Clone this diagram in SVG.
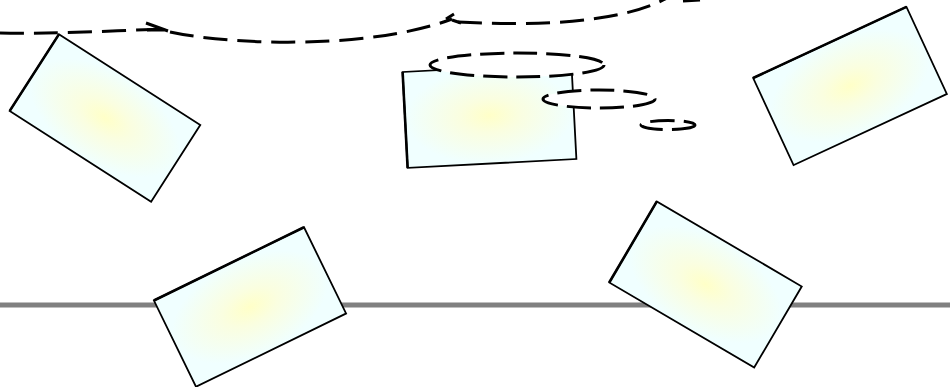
<svg xmlns="http://www.w3.org/2000/svg" width="950" height="387" viewBox="0 0 950 387">
<defs>
<radialGradient id="g" cx="0.5" cy="0.5" r="0.5">
<stop offset="0" stop-color="#ffffc8"/>
<stop offset="0.35" stop-color="#fafee0"/>
<stop offset="1" stop-color="#f0ffff"/>
</radialGradient>
<style>
.card{fill:url(#g);stroke:#000;stroke-width:1.8}
.edge{stroke:#000;stroke-width:2.6;fill:none}
.dash{fill:none;stroke:#000;stroke-width:3;stroke-dasharray:24 10}
.ell{fill:#fff;stroke:#000;stroke-width:3;stroke-dasharray:24 9}
.tick{fill:none;stroke:#000;stroke-width:3}
</style>
</defs>
<line x1="0" y1="305" x2="950" y2="305" stroke="#808080" stroke-width="5"/>
<g id="node1" transform="translate(105,118) rotate(32.7)">
<rect class="card" x="-84" y="-45.5" width="168" height="91"/>
<line class="edge" x1="-84" y1="-45.5" x2="-84" y2="45.5"/>
</g>
<g id="node2" transform="translate(489.5,115.5) rotate(-3)">
<rect class="card" x="-84.5" y="-48" width="169" height="96"/>
<line class="edge" x1="-84.5" y1="-48" x2="-84.5" y2="48"/>
</g>
<g id="node3" transform="translate(850,86) rotate(-24.9)">
<rect class="card" x="-84.5" y="-48" width="169" height="96"/>
<line class="edge" x1="-84.5" y1="-48" x2="84.5" y2="-48"/>
</g>
<g id="node4" transform="translate(250,307) rotate(-26)">
<rect class="card" x="-83.5" y="-48" width="167" height="96"/>
<line class="edge" x1="-83.5" y1="-48" x2="83.5" y2="-48"/>
</g>
<g id="node5" transform="translate(705.5,284.5) rotate(30.4)">
<rect class="card" x="-84" y="-47" width="168" height="94"/>
<line class="edge" x1="-84" y1="-47" x2="-84" y2="47"/>
</g>
<g id="connectors">
<path class="dash" d="M0,33 C50,34 110,31 166,29"/>
<path class="tick" d="M146,23 L168,31 M147,30 L166,30"/>
<path class="dash" d="M170,32 C230,45 370,50 452,19"/>
<path class="tick" d="M446,19 L454,14 M452,20 L461,23"/>
<path class="dash" d="M458,22 C530,26 620,24 667,-2"/>
<path class="tick" d="M683,1 L700,0"/>
<ellipse class="ell" cx="517" cy="65" rx="87" ry="12"/>
<ellipse class="ell" cx="599" cy="99" rx="56" ry="9"/>
<ellipse class="ell" cx="668" cy="125" rx="27" ry="4.5"/>
</g>
</svg>
